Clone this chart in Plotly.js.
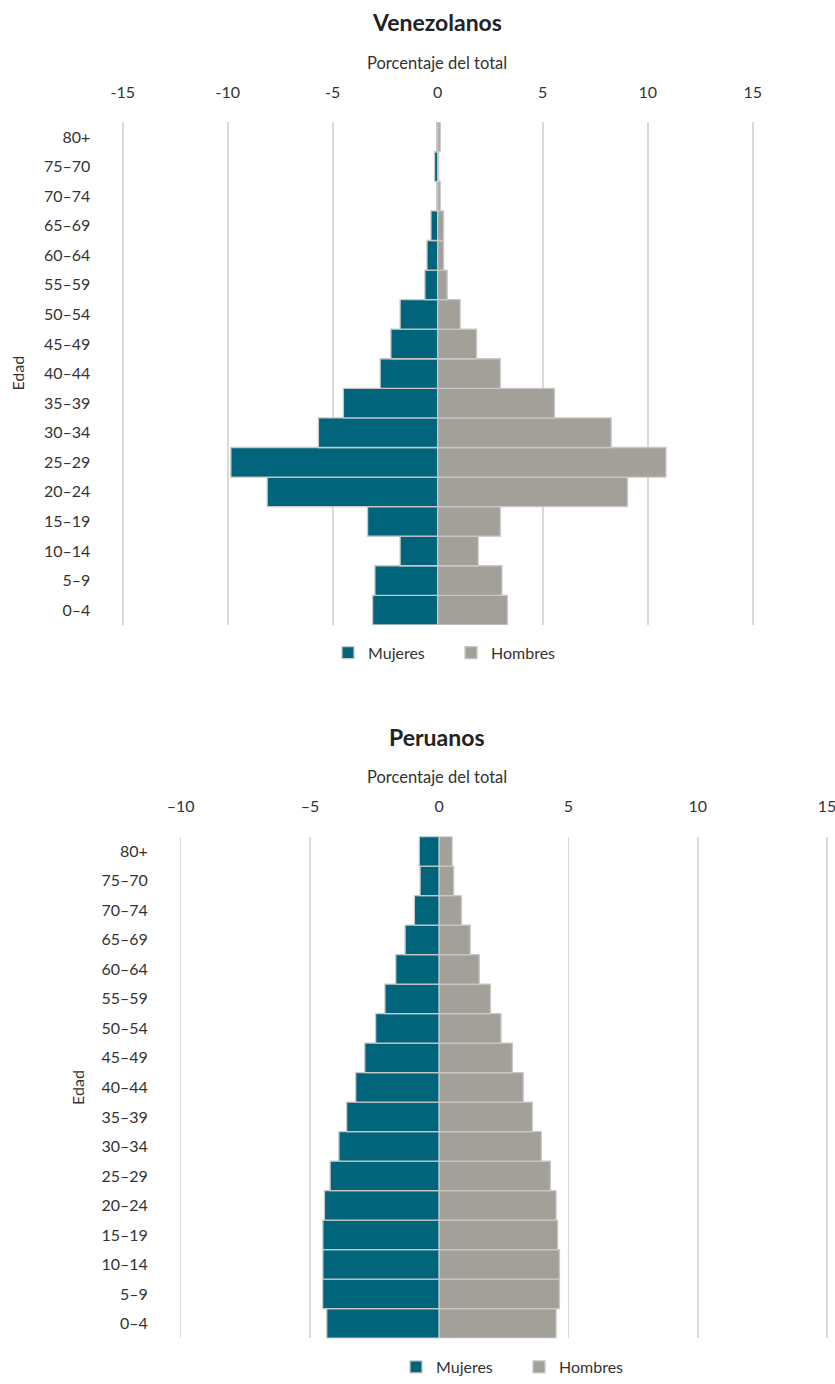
<!DOCTYPE html>
<html>
<head>
<meta charset="utf-8">
<script src="https://cdn.plot.ly/plotly-3.0.1.min.js"></script>
<style>
  html, body { margin: 0; padding: 0; background: #ffffff; }
  #chart { width: 835px; height: 1384px; }
</style>
</head>
<body>
<div id="chart"></div>
<script>
// Age groups, bottom to top
const categories = ["0–4", "5–9", "10–14", "15–19", "20–24", "25–29", "30–34", "35–39",
  "40–44", "45–49", "50–54", "55–59", "60–64", "65–69", "70–74", "75–70", "80+"];

// Venezolanos (percent of total; women negative)
const venMujeres = [-3.10, -2.99, -1.79, -3.34, -8.12, -9.85, -5.68, -4.49,
  -2.74, -2.23, -1.79, -0.61, -0.51, -0.32, -0.05, -0.15, -0.05];
const venHombres = [3.32, 3.06, 1.93, 2.98, 9.04, 10.87, 8.26, 5.56,
  2.98, 1.85, 1.07, 0.45, 0.28, 0.28, 0.12, 0.04, 0.12];

// Peruanos
const perMujeres = [-4.35, -4.51, -4.50, -4.50, -4.44, -4.22, -3.88, -3.58,
  -3.23, -2.88, -2.46, -2.10, -1.68, -1.32, -0.96, -0.74, -0.77];
const perHombres = [4.52, 4.65, 4.65, 4.58, 4.52, 4.30, 3.95, 3.60,
  3.25, 2.83, 2.39, 1.98, 1.55, 1.20, 0.86, 0.56, 0.50];

// Tick values / labels
const venTickVals = [-15, -10, -5, 0, 5, 10, 15];
const venTickText = ["-15", "-10", "-5", "0", "5", "10", "15"];
const perTickVals = [-10, -5, 0, 5, 10, 15];
const perTickText = ["–10", "–5", "0", "5", "10", "15"];

const seriesNames = ["Mujeres", "Hombres"];
const TEAL = "#00657b";
const GRAY = "#a39f99";
const EDGE = "#c8c8c8";
const FONT = "Lato, 'Open Sans', sans-serif";
const TXT = "#333333";

const W = 835, H = 1384;
const px = x => x / W;
const py = y => 1 - y / H;

function bar(x, name, color, xa, ya, legend) {
  return {
    type: "bar", orientation: "h", y: categories, x: x, name: name,
    xaxis: xa, yaxis: ya, legend: legend,
    marker: { color: color, line: { color: EDGE, width: 1.3 } },
    hoverinfo: "skip"
  };
}

const data = [
  bar(venMujeres, seriesNames[0], TEAL, "x", "y", "legend"),
  bar(venHombres, seriesNames[1], GRAY, "x", "y", "legend"),
  bar(perMujeres, seriesNames[0], TEAL, "x2", "y2", "legend2"),
  bar(perHombres, seriesNames[1], GRAY, "x2", "y2", "legend2")
];

const xCommon = {
  side: "top", showgrid: true, gridcolor: "#d9d9d9", gridwidth: 1.6,
  zeroline: false, showline: false, ticks: "outside", ticklen: 17,
  tickcolor: "rgba(0,0,0,0)", tickmode: "array", ticklabeloverflow: "allow",
  tickfont: { family: FONT, size: 16, color: TXT }, fixedrange: true
};
const yCommon = {
  type: "category", categoryorder: "array", categoryarray: categories,
  showgrid: false, zeroline: false, showline: false, ticks: "outside",
  ticklen: 26, tickcolor: "rgba(0,0,0,0)",
  tickfont: { family: FONT, size: 16, color: TXT }, fixedrange: true
};

// axis pixel scale: top 21 px/unit (zero at 437.7), bottom 25.85 px/unit (zero at 439.2)
const layout = {
  width: W, height: H,
  margin: { l: 0, r: 0, t: 0, b: 0 },
  paper_bgcolor: "#ffffff", plot_bgcolor: "#ffffff",
  barmode: "relative", bargap: 0,
  font: { family: FONT, color: TXT },
  showlegend: true,
  xaxis: Object.assign({}, xCommon, {
    domain: [px(120.6), px(754.8)], range: [-15.1, 15.1],
    tickvals: venTickVals, ticktext: venTickText, anchor: "y"
  }),
  yaxis: Object.assign({}, yCommon, {
    domain: [py(629), py(123)], anchor: "x"
  }),
  xaxis2: Object.assign({}, xCommon, {
    domain: [px(178.1), px(829.6)], range: [-10.1, 15.1],
    tickvals: perTickVals, ticktext: perTickText, anchor: "y2"
  }),
  yaxis2: Object.assign({}, yCommon, {
    domain: [py(1347), py(842)], anchor: "x2"
  }),
  legend: {
    orientation: "h", x: px(328), xanchor: "left", y: py(657), yanchor: "middle",
    font: { family: FONT, size: 16, color: TXT }, itemwidth: 30,
    entrywidth: 78, entrywidthmode: "pixels",
    traceorder: "normal", bgcolor: "rgba(0,0,0,0)"
  },
  legend2: {
    orientation: "h", x: px(396), xanchor: "left", y: py(1376), yanchor: "middle",
    font: { family: FONT, size: 16, color: TXT }, itemwidth: 30,
    entrywidth: 78, entrywidthmode: "pixels",
    traceorder: "normal", bgcolor: "rgba(0,0,0,0)"
  },
  annotations: [
    { text: "<b>Venezolanos</b>", xref: "paper", yref: "paper", x: px(437), y: py(22),
      xanchor: "center", yanchor: "middle", showarrow: false,
      font: { family: FONT, size: 23, color: "#222222" } },
    { text: "Porcentaje del total", xref: "paper", yref: "paper", x: px(437), y: py(63),
      xanchor: "center", yanchor: "middle", showarrow: false,
      font: { family: FONT, size: 16.5, color: TXT } },
    { text: "Edad", xref: "paper", yref: "paper", x: px(18), y: py(376),
      xanchor: "center", yanchor: "middle", showarrow: false, textangle: -90,
      font: { family: FONT, size: 16, color: TXT } },
    { text: "<b>Peruanos</b>", xref: "paper", yref: "paper", x: px(437), y: py(742),
      xanchor: "center", yanchor: "middle", showarrow: false,
      font: { family: FONT, size: 23, color: "#222222" } },
    { text: "Porcentaje del total", xref: "paper", yref: "paper", x: px(437), y: py(782),
      xanchor: "center", yanchor: "middle", showarrow: false,
      font: { family: FONT, size: 16.5, color: TXT } },
    { text: "Edad", xref: "paper", yref: "paper", x: px(78), y: py(1095),
      xanchor: "center", yanchor: "middle", showarrow: false, textangle: -90,
      font: { family: FONT, size: 16, color: TXT } }
  ]
};

Plotly.newPlot("chart", data, layout, { displayModeBar: false, staticPlot: true });
</script>
</body>
</html>
